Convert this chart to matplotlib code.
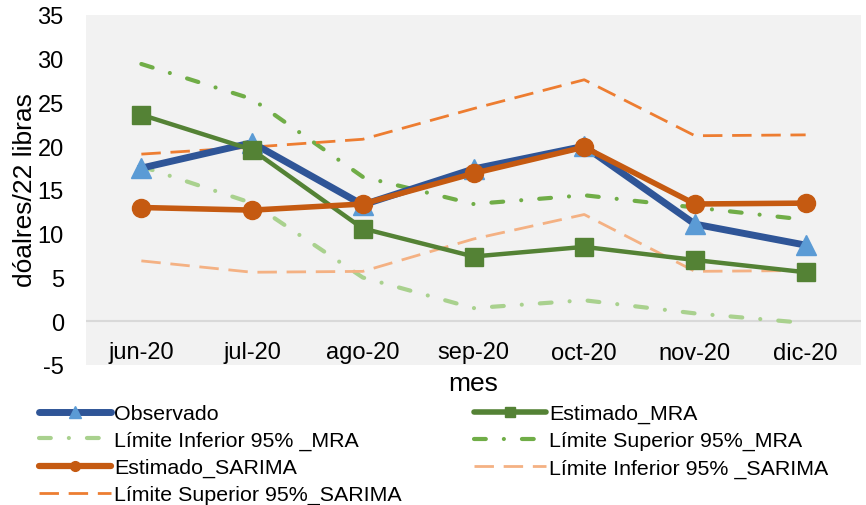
import matplotlib
matplotlib.use("Agg")
import matplotlib.pyplot as plt
from matplotlib.lines import Line2D
import numpy as np

plt.rcParams['font.family'] = ['Liberation Sans', 'DejaVu Sans']
plt.rcParams['lines.scale_dashes'] = False

# Data
meses = ["jun-20", "jul-20", "ago-20", "sep-20", "oct-20", "nov-20", "dic-20"]
observado = [17.5, 20.4, 13.3, 17.4, 20.0, 11.1, 8.7]
estimado_mra = [23.6, 19.6, 10.6, 7.4, 8.5, 7.0, 5.6]
li_mra = [17.7, 13.5, 5.0, 1.5, 2.4, 0.9, -0.2]
ls_mra = [29.4, 25.4, 16.5, 13.4, 14.4, 13.0, 11.6]
estimado_sarima = [13.0, 12.7, 13.4, 16.9, 19.9, 13.4, 13.5]
li_sarima = [6.9, 5.6, 5.7, 9.4, 12.2, 5.7, 5.8]
ls_sarima = [19.1, 19.9, 20.8, 24.3, 27.6, 21.2, 21.3]
y_ticks = [-5, 0, 5, 10, 15, 20, 25, 30, 35]

x = np.arange(len(meses))

fig = plt.figure(figsize=(8.66, 5.06), dpi=100)
ax = fig.add_axes([86 / 866, 1 - 366 / 506, 775 / 866, 350 / 506])
ax.set_facecolor("#F2F2F2")
for s in ax.spines.values():
    s.set_visible(False)

ax.axhline(0, color="#D9D9D9", lw=1.5, zorder=1)

dashdot = (0, (8.5, 13, 0.01, 13))
dashed = (0, (14, 7))

ax.plot(x, li_mra, color="#A9D18E", lw=3, linestyle=dashdot,
        dash_capstyle="round", zorder=2)
ax.plot(x, ls_mra, color="#70AD47", lw=3, linestyle=dashdot,
        dash_capstyle="round", zorder=2)
ax.plot(x, li_sarima, color="#F4B183", lw=2, linestyle=dashed, zorder=2)
ax.plot(x, ls_sarima, color="#ED7D31", lw=2, linestyle=dashed, zorder=2)
ax.plot(x, observado, color="#2F5597", lw=5, marker="^", ms=14,
        mfc="#5B9BD5", mec="#5B9BD5", zorder=3)
ax.plot(x, estimado_mra, color="#548235", lw=3.2, marker="s", ms=13,
        mfc="#548235", mec="#548235", zorder=4)
ax.plot(x, estimado_sarima, color="#C55A11", lw=4, marker="o", ms=13,
        mfc="#C55A11", mec="#C55A11", zorder=5)

ax.set_xlim(-0.5, len(meses) - 0.5)
ax.set_ylim(-5, 35)
ax.set_yticks(y_ticks)
ax.set_yticklabels([str(v) for v in y_ticks])
ax.set_xticks(x)
ax.set_xticklabels(meses)
ax.tick_params(axis="both", length=0, labelsize=17, colors="#000000")
ax.tick_params(axis="y", pad=16)
ax.tick_params(axis="x", pad=-9)
for lbl in ax.get_xticklabels():
    lbl.set_va("center")

ax.set_xlabel("mes", fontsize=19)
ax.xaxis.set_label_coords(0.5, -0.052)
ax.xaxis.label.set_va("center")
ax.set_ylabel("dóalres/22 libras", fontsize=19)
ax.yaxis.set_label_coords(-0.0787, 0.503)
ax.yaxis.label.set_va("center")

# Legend (column-major order for a 2-column layout)
h_obs = Line2D([], [], color="#2F5597", lw=5, marker="^", ms=8,
               mfc="#5B9BD5", mec="#5B9BD5", solid_capstyle="round")
h_mra = Line2D([], [], color="#548235", lw=4, marker="s", ms=7,
               mfc="#548235", mec="#548235", solid_capstyle="round")
h_li_mra = Line2D([], [], color="#A9D18E", lw=3, linestyle=dashdot,
                  dash_capstyle="round")
h_ls_mra = Line2D([], [], color="#70AD47", lw=3, linestyle=dashdot,
                  dash_capstyle="round")
h_sar = Line2D([], [], color="#C55A11", lw=4.5, marker="o", ms=7,
               mfc="#C55A11", mec="#C55A11", solid_capstyle="round")
h_li_sar = Line2D([], [], color="#F4B183", lw=2, linestyle=dashed)
h_ls_sar = Line2D([], [], color="#ED7D31", lw=2, linestyle=dashed)

handles = [h_obs, h_li_mra, h_sar, h_ls_sar, h_mra, h_ls_mra, h_li_sar]
labels = ["Observado", "Límite Inferior 95% _MRA", "Estimado_SARIMA",
          "Límite Superior 95%_SARIMA", "Estimado_MRA",
          "Límite Superior 95%_MRA", "Límite Inferior 95% _SARIMA"]
leg = fig.legend(handles, labels, ncol=2, loc="upper left",
                 bbox_to_anchor=(39 / 866, 1 - 405 / 506),
                 frameon=False, borderpad=0, borderaxespad=0,
                 handlelength=3.35, handletextpad=0.15,
                 columnspacing=3.4, labelspacing=0.37,
                 prop={"size": 15.4})

fig.savefig("out.png", dpi=100)
